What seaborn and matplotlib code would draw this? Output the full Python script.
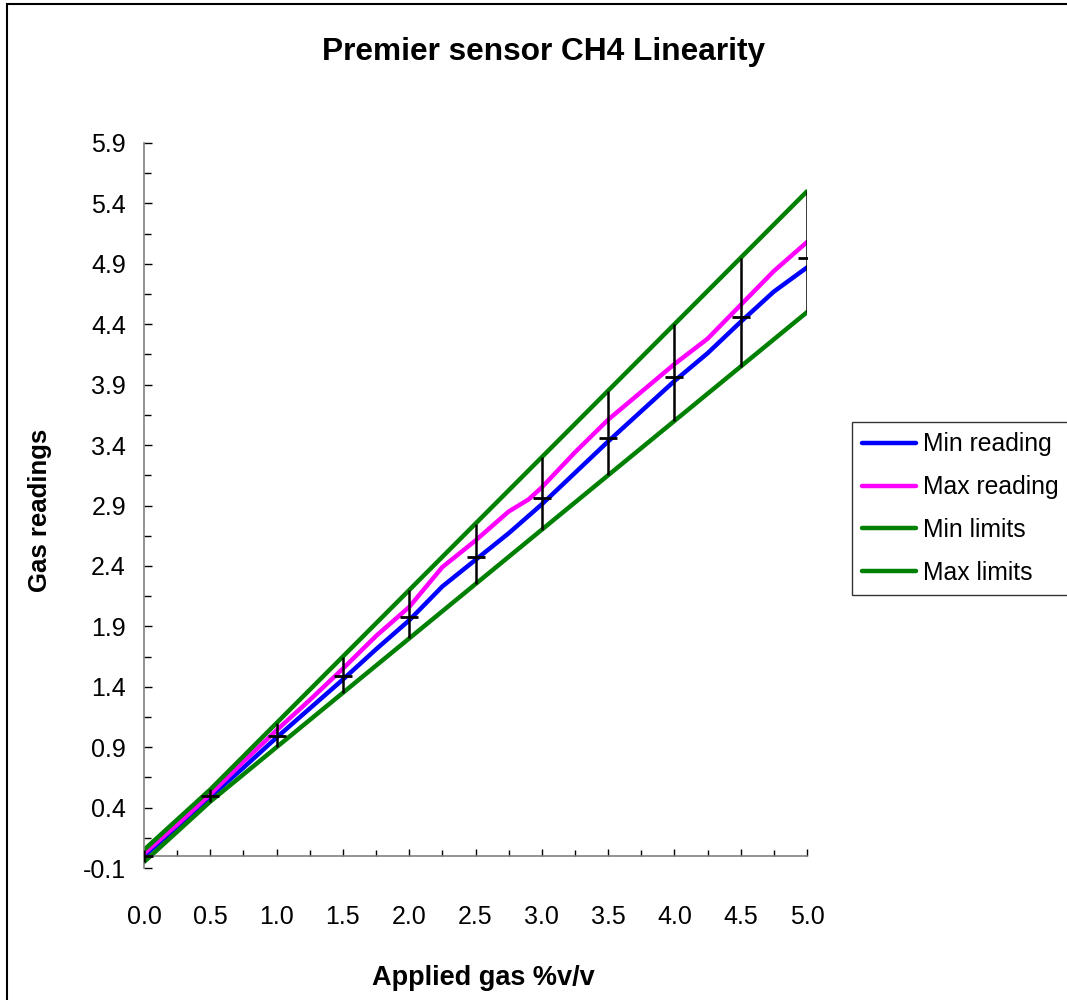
import matplotlib
matplotlib.use("Agg")
import matplotlib.pyplot as plt
import seaborn as sns
import pandas as pd
from matplotlib.patches import Rectangle

# ---- data ----
reading_x = [0.0, 0.25, 0.5, 0.75, 1.0, 1.25, 1.5, 1.75, 2.0, 2.25, 2.5,
             2.75, 3.0, 3.25, 3.5, 3.75, 4.0, 4.25, 4.5, 4.75, 5.0]
min_reading = [0.0, 0.24, 0.49, 0.73, 0.98, 1.22, 1.46, 1.71, 1.95, 2.23, 2.45,
               2.67, 2.91, 3.17, 3.43, 3.68, 3.93, 4.16, 4.42, 4.67, 4.87]
max_x = [0.0, 0.25, 0.5, 0.75, 1.0, 1.25, 1.5, 1.75, 2.0, 2.25, 2.5,
         2.75, 2.9, 3.0, 3.25, 3.5, 3.75, 4.0, 4.25, 4.5, 4.75, 5.0]
max_reading = [0.02, 0.26, 0.51, 0.78, 1.04, 1.29, 1.55, 1.82, 2.06, 2.39, 2.61,
               2.85, 2.95, 3.05, 3.34, 3.61, 3.84, 4.07, 4.28, 4.56, 4.84, 5.08]
limit_x = [0.0, 0.5, 1.0, 1.5, 2.0, 2.5, 3.0, 3.5, 4.0, 4.5, 5.0]
min_limits = [-0.05, 0.45, 0.90, 1.35, 1.80, 2.25, 2.70, 3.15, 3.60, 4.05, 4.50]
max_limits = [0.05, 0.55, 1.10, 1.65, 2.20, 2.75, 3.30, 3.85, 4.40, 4.95, 5.50]
marker_vals = [0.0, 0.50, 0.99, 1.49, 1.98, 2.47, 2.96, 3.46, 3.96, 4.46, 4.95]

x_major = [0.0, 0.5, 1.0, 1.5, 2.0, 2.5, 3.0, 3.5, 4.0, 4.5, 5.0]
x_minor = [0.25, 0.75, 1.25, 1.75, 2.25, 2.75, 3.25, 3.75, 4.25, 4.75]
y_major = [-0.1, 0.4, 0.9, 1.4, 1.9, 2.4, 2.9, 3.4, 3.9, 4.4, 4.9, 5.4, 5.9]
y_minor = [0.15, 0.65, 1.15, 1.65, 2.15, 2.65, 3.15, 3.65, 4.15, 4.65, 5.15, 5.65]

title = "Premier sensor CH4 Linearity"
xlabel = "Applied gas %v/v"
ylabel = "Gas readings"

# ---- style ----
sns.set_style("white")
plt.rcParams["font.family"] = ["Liberation Sans", "DejaVu Sans"]
plt.rcParams["text.color"] = "black"
plt.rcParams["axes.labelcolor"] = "black"
plt.rcParams["xtick.color"] = "black"
plt.rcParams["ytick.color"] = "black"
plt.rcParams["xtick.labelcolor"] = "black"
plt.rcParams["ytick.labelcolor"] = "black"

fig = plt.figure(figsize=(10.67, 10.0), dpi=100)
ax = fig.add_axes([144/1067, 1-868/1000, (807-144)/1067, (868-143)/1000])

df_min = pd.DataFrame({"x": reading_x, "y": min_reading})
df_max = pd.DataFrame({"x": max_x, "y": max_reading})
df_lmin = pd.DataFrame({"x": limit_x, "y": min_limits})
df_lmax = pd.DataFrame({"x": limit_x, "y": max_limits})

lw = 3.2
sns.lineplot(data=df_min, x="x", y="y", color="#0000FF", linewidth=lw,
             label="Min reading", ax=ax, sort=False)
sns.lineplot(data=df_max, x="x", y="y", color="#FF00FF", linewidth=lw,
             label="Max reading", ax=ax, sort=False)
sns.lineplot(data=df_lmin, x="x", y="y", color="#008000", linewidth=lw,
             label="Min limits", ax=ax, sort=False)
sns.lineplot(data=df_lmax, x="x", y="y", color="#008000", linewidth=lw,
             label="Max limits", ax=ax, sort=False)

ax.vlines(limit_x, min_limits, max_limits, color="black", linewidth=1.8, zorder=5)
ax.plot(limit_x, marker_vals, linestyle="none", marker="_", markersize=13,
        markeredgewidth=2.0, color="black", zorder=6)

ax.set_xlim(0, 5.0)
ax.set_ylim(-0.1, 5.9)

# spines
for s in ["top", "right"]:
    ax.spines[s].set_visible(False)
ax.spines["bottom"].set_position(("data", 0))
ax.spines["left"].set_color("#808080")
ax.spines["bottom"].set_color("#808080")
ax.spines["left"].set_linewidth(1.2)
ax.spines["bottom"].set_linewidth(1.2)

ax.set_xticks(x_major)
ax.set_xticks(x_minor, minor=True)
ax.set_xticklabels([f"{v:.1f}" for v in x_major])
ax.set_yticks(y_major)
ax.set_yticks(y_minor, minor=True)
ax.set_yticklabels([f"{v:.1f}" for v in y_major])

ax.tick_params(axis="x", which="major", direction="in", length=5, width=1,
               color="black", pad=35, labelsize=18, labelcolor="black")
ax.tick_params(axis="x", which="minor", direction="in", length=4, width=1,
               color="black")
ax.tick_params(axis="y", which="major", direction="in", length=6, width=1,
               color="black", pad=13, labelsize=18, labelcolor="black")
ax.tick_params(axis="y", which="minor", direction="in", length=5, width=1,
               color="black")
ax.tick_params(axis="both", which="both", bottom=True, left=True)

ax.set_xlabel(xlabel, fontsize=19.5, fontweight="bold", color="black")
ax.set_ylabel(ylabel, fontsize=18.5, fontweight="bold", color="black")
ax.xaxis.set_label_coords((483-144)/663, (868-965)/725)
ax.yaxis.set_label_coords((52-144)/663, (868-510)/725)

fig.text(544/1067, 1-52/1000, title, ha="center", va="center",
         fontsize=22.8, fontweight="bold", color="black")

leg = ax.legend(loc="upper left", bbox_to_anchor=(852/1067, 1-422/1000),
                bbox_transform=fig.transFigure, borderaxespad=0,
                fontsize=17.8, frameon=True, fancybox=False, edgecolor="black",
                handlelength=2.15, handletextpad=0.3, labelspacing=0.76,
                borderpad=0.42)
leg.get_frame().set_linewidth(1.0)
for t in leg.get_texts():
    t.set_color("black")
for h in leg.get_lines():
    h.set_linewidth(3.2)

# outer chart border
fig.patches.append(Rectangle((7/1067, -0.05), 1.2, 1-4/1000 + 0.05,
                             transform=fig.transFigure, fill=False,
                             edgecolor="black", linewidth=1.5))

fig.savefig("out.png", dpi=100, facecolor="white")
